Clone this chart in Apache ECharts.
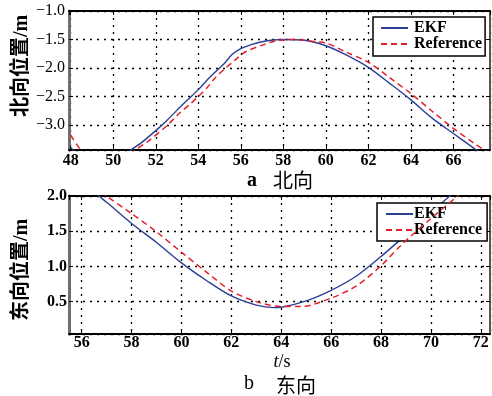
<!DOCTYPE html>
<html><head><meta charset="utf-8">
<script src="https://cdn.jsdelivr.net/npm/echarts@6/dist/echarts.min.js"></script>
<style>html,body{margin:0;padding:0;background:#fff}#c{width:492px;height:396px}</style>
</head><body><div id="c"></div>
<script>
// North (top) panel
const northEkfT = [48.0,48.4,49.0,49.8,50.3,50.8,51.3,52.0,52.5,53.0,53.5,54.0,54.6,55.2,55.6,56.0,56.5,57.0,57.5,58.0,58.9,60.0,61.0,62.0,63.0,64.0,65.0,66.0,67.0,67.5];
const northEkfV = [-3.39,-3.56,-3.72,-3.78,-3.64,-3.45,-3.32,-3.10,-2.93,-2.74,-2.56,-2.38,-2.14,-1.93,-1.76,-1.66,-1.59,-1.54,-1.51,-1.50,-1.51,-1.61,-1.78,-1.99,-2.27,-2.56,-2.88,-3.15,-3.42,-3.55];
const northRefT = [48.0,48.5,49.2,50.0,50.6,51.05,51.7,52.56,53.1,53.6,54.0,54.4,54.8,55.2,55.7,56.2,57.0,57.5,58.3,58.9,59.5,60.0,61.0,62.0,63.0,64.0,65.0,66.0,67.0,67.5,67.8];
const northRefV = [-3.18,-3.45,-3.68,-3.78,-3.62,-3.44,-3.27,-3.00,-2.80,-2.64,-2.50,-2.35,-2.17,-2.03,-1.87,-1.72,-1.60,-1.54,-1.50,-1.51,-1.54,-1.56,-1.73,-1.90,-2.17,-2.45,-2.76,-3.06,-3.33,-3.45,-3.52];
// East (bottom) panel
const eastEkfT = [56.5,56.69,57.0,58.0,59.0,60.0,61.0,62.0,63.0,63.7,64.0,65.0,66.0,67.0,68.0,69.0,70.0,70.75,71.0];
const eastEkfV = [2.07,2.0,1.91,1.61,1.34,1.05,0.80,0.58,0.45,0.415,0.42,0.51,0.66,0.86,1.14,1.45,1.76,2.0,2.08];
const eastRefT = [56.8,57.0,58.0,59.0,60.0,61.0,62.0,63.0,64.0,64.8,66.0,67.0,68.0,68.8,70.0,71.07,71.3];
const eastRefV = [2.07,2.0,1.75,1.49,1.20,0.92,0.65,0.50,0.43,0.43,0.55,0.72,1.01,1.30,1.68,2.0,2.07];

const seriesNames = ['EKF','Reference'];
const northName = '北向位置/m';
const eastName = '东向位置/m';
const captionA = ['a','北向'];
const captionB = ['b','东向'];

const pair = (t, v) => t.map((x, i) => [x, v[i]]);
const SERIF = "'Liberation Serif','Times New Roman',serif";
const CJK = "'Liberation Serif','Noto Sans CJK SC',serif";
const BLUE = '#2c3f96', RED = '#e3202b';

const xFmt = v => (Math.abs(v/2 - Math.round(v/2)) < 1e-6) ? String(Math.round(v)) : '';
const yFmt = v => (Math.abs(v*2 - Math.round(v*2)) < 1e-6) ? v.toFixed(1).replace('-', '\u2212') : '';

function xAx(gi, min, max, split, margin) {
  return [{
    type: 'value', gridIndex: gi, min: min, max: max, splitNumber: split, position: 'bottom',
    axisLine: {show: true, lineStyle: {color: '#000', width: 2}},
    axisTick: {show: true, inside: true, length: 4, lineStyle: {color: '#000'}},
    axisLabel: {formatter: xFmt, margin: margin, color: '#000', fontFamily: SERIF, fontSize: 16, fontWeight: 'bold', showMinLabel: false, showMaxLabel: false},
    splitLine: {show: true, lineStyle: {color: '#000', width: 1.3, type: [2, 5]}}
  }, {
    type: 'value', gridIndex: gi, min: min, max: max, splitNumber: split, position: 'top',
    axisLine: {show: true, lineStyle: {color: '#000', width: 2}},
    axisTick: {show: true, inside: true, length: 4, lineStyle: {color: '#000'}},
    axisLabel: {show: false}, splitLine: {show: false}
  }];
}
function yAx(gi, min, max, split, margin, bold) {
  return [{
    type: 'value', gridIndex: gi, min: min, max: max, splitNumber: split, position: 'left',
    axisLine: {show: true, lineStyle: {color: '#6e6e6e', width: 3}},
    axisTick: {show: true, inside: true, length: 4, lineStyle: {color: '#000'}},
    axisLabel: {formatter: yFmt, margin: margin, color: '#000', fontFamily: SERIF, fontSize: 16, fontWeight: bold ? 'bold' : 'normal', showMinLabel: false},
    splitLine: {show: true, lineStyle: {color: '#000', width: 1.3, type: [2, 5]}}
  }, {
    type: 'value', gridIndex: gi, min: min, max: max, splitNumber: split, position: 'right',
    axisLine: {show: true, lineStyle: {color: '#555', width: 2}},
    axisTick: {show: true, inside: true, length: 4, lineStyle: {color: '#000'}},
    axisLabel: {show: false}, splitLine: {show: false}
  }];
}
function ser(name, data, xi, yi) {
  const ekf = name === seriesNames[0];
  return {
    name: name, type: 'line', xAxisIndex: xi, yAxisIndex: yi, data: data,
    showSymbol: false, symbol: 'none', smooth: 0.3, clip: true, z: ekf ? 3 : 4,
    lineStyle: ekf ? {color: BLUE, width: 1.4} : {color: RED, width: 1.5, type: [6, 4]},
    itemStyle: {color: ekf ? BLUE : RED}
  };
}
function legend(left, top, pad, textPadLeft) {
  return {
    data: seriesNames, orient: 'vertical', left: left, top: top, padding: pad, itemGap: 0,
    itemWidth: 27, itemHeight: 16, backgroundColor: '#fff', borderColor: '#000', borderWidth: 1.5,
    borderRadius: 0, selectedMode: false,
    itemStyle: {opacity: 0, borderWidth: 0},
    textStyle: {fontFamily: SERIF, fontSize: 16, fontWeight: 'bold', color: '#000', padding: [0, 0, 0, textPadLeft]}
  };
}

const chart = echarts.init(document.getElementById('c'), null, {renderer: 'canvas'});
chart.setOption({
  animation: false,
  backgroundColor: '#fff',
  grid: [
    {left: 69, top: 11, width: 421, height: 139},
    {left: 69, top: 196, width: 421, height: 138}
  ],
  xAxis: [].concat(xAx(0, 47.92, 67.72, 10, 3), xAx(1, 55.49, 72.37, 8, 1)),
  yAxis: [].concat(yAx(0, -3.44, -1.0, 5, 4, false), yAx(1, 0.04, 2.0, 4, 2, true)),
  legend: [legend(373, 17, [3, 3, 4, 7], 1), legend(377, 203, [3, 5, 3, 8], -4)],
  series: [
    ser(seriesNames[0], pair(northEkfT, northEkfV), 0, 0),
    ser(seriesNames[1], pair(northRefT, northRefV), 0, 0),
    ser(seriesNames[0], pair(eastEkfT, eastEkfV), 2, 2),
    ser(seriesNames[1], pair(eastRefT, eastRefV), 2, 2)
  ],
  graphic: [
    {type: 'text', x: 22, y: 66, rotation: Math.PI / 2, style: {text: northName, font: "bold 20px " + CJK, fill: '#000', align: 'center', verticalAlign: 'middle'}},
    {type: 'text', x: 22, y: 270, rotation: Math.PI / 2, style: {text: eastName, font: "bold 20px " + CJK, fill: '#000', align: 'center', verticalAlign: 'middle'}},
    {type: 'text', x: 247, y: 181, style: {text: captionA[0], font: "bold 20px " + SERIF, fill: '#000', align: 'left', verticalAlign: 'middle'}},
    {type: 'text', x: 273, y: 180, style: {text: captionA[1], font: "20px 'Noto Sans CJK SC'", fill: '#000', align: 'left', verticalAlign: 'middle'}},
    {type: 'text', x: 244, y: 384, style: {text: captionB[0], font: "20px " + SERIF, fill: '#000', align: 'left', verticalAlign: 'middle'}},
    {type: 'text', x: 276, y: 385, style: {text: captionB[1], font: "20px 'Noto Sans CJK SC'", fill: '#000', align: 'left', verticalAlign: 'middle'}},
    {type: 'text', x: 282, y: 362, style: {text: '{i|t}/s', font: "18px " + SERIF, fill: '#000', align: 'center', verticalAlign: 'middle',
      rich: {i: {fontStyle: 'italic', fontFamily: SERIF, fontSize: 18}}}}
  ]
});
</script></body></html>
